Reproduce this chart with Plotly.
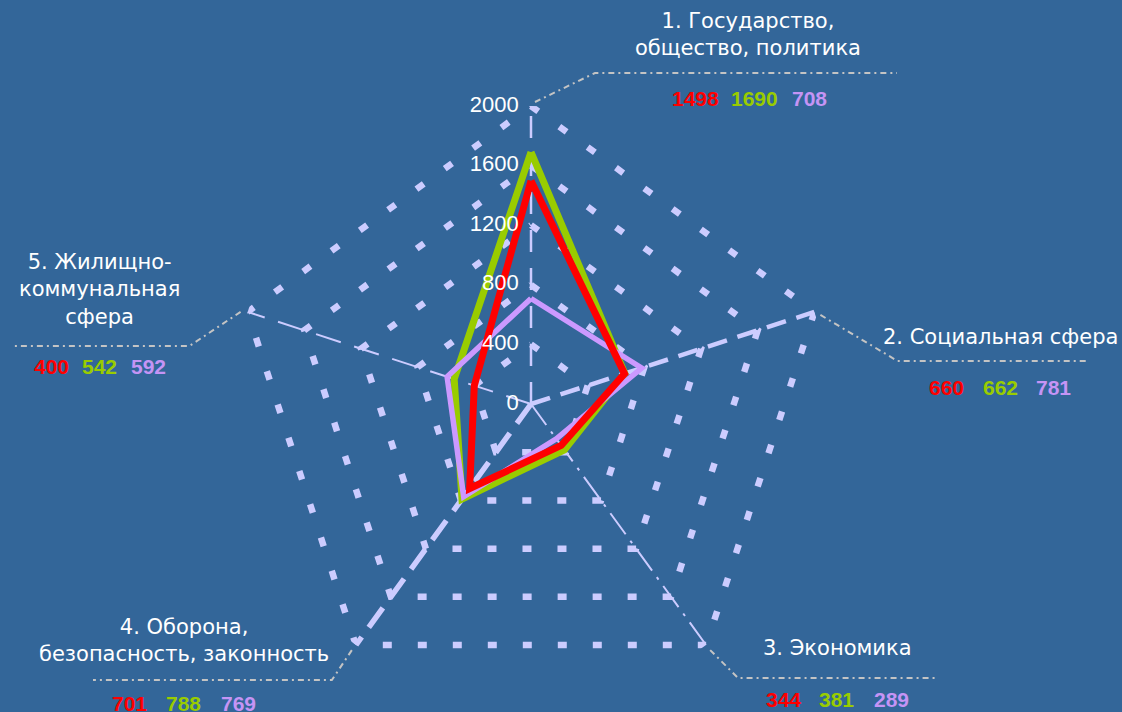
import math
import plotly.graph_objects as go

# ---------------- data ----------------
category_keys = ["c1", "c2", "c3", "c4", "c5"]
category_labels = [
    "1. Государство,<br>общество, политика",
    "2. Социальная сфера",
    "3. Экономика",
    "4. Оборона,<br>безопасность, законность",
    "5. Жилищно-<br>коммунальная<br>сфера",
]
red_values = [1498, 660, 344, 701, 400]
green_values = [1690, 662, 381, 788, 542]
purple_values = [708, 781, 289, 769, 592]
tick_values = [0, 400, 800, 1200, 1600, 2000]
tick_labels = ["0", "400", "800", "1200", "1600", "2000"]
r_max = 2000

# ---------------- styles / layout ----------------
W, H = 1122, 712
CX, CY, R = 531, 404, 298          # polar centre and radius in pixels
BG = "#336699"
GRID = "#ccccff"
LEADER = "#c4c4c4"
RED, GREEN, PURPLE = "#ff0000", "#99cc00", "#cc99ff"
PURPLE_TXT = "#c594f5"

spoke_styles = [
    dict(width=2.5, dash="22px,16px"),
    dict(width=4.5, dash="20px,11px"),
    dict(width=2, dash="26px,8px,3px,8px"),
    dict(width=5.5, dash="24px,12px"),
    dict(width=2, dash="26px,14px"),
]

# label placement (pixels): elbow offset from vertex, end x of leader,
# text block centre, numbers row y and x centres
label_pos = [
    dict(start=(4, -4), elbow=(64, -33), end_x=897, text=(748, 35), num_y=99, num_x=[695, 754, 809]),
    dict(start=(6, 3), elbow=(83, 49), end_x=1088, text=(1000, 337), num_y=387, num_x=[946, 1000, 1053]),
    dict(start=(4, 5), elbow=(32, 33), end_x=935, text=(837, 648), num_y=699, num_x=[783, 836, 891]),
    dict(start=(-4, 5), elbow=(-24, 35), end_x=93, text=(184, 640), num_y=703, num_x=[129, 183, 238]),
    dict(start=(-7, 0), elbow=(-58, 34), end_x=12, text=(99, 290), num_y=366, num_x=[51, 99, 148]),
]


def px(x):
    return x / W


def py(y):
    return 1 - y / H


fig = go.Figure()
closed = category_keys + [category_keys[0]]

# grid pentagons
for lvl in tick_values[1:]:
    fig.add_trace(go.Scatterpolar(
        r=[lvl] * len(closed), theta=closed, mode="lines",
        line=dict(color=GRID, width=6.5, dash="9px,26px"),
        hoverinfo="skip", showlegend=False))

# spokes
for key, st in zip(category_keys, spoke_styles):
    fig.add_trace(go.Scatterpolar(
        r=[0, r_max], theta=[key, key], mode="lines",
        line=dict(color=GRID, width=st["width"], dash=st["dash"]),
        hoverinfo="skip", showlegend=False))

# series
for vals, col, w in [(green_values, GREEN, 7), (purple_values, PURPLE, 5.5), (red_values, RED, 7)]:
    fig.add_trace(go.Scatterpolar(
        r=vals + [vals[0]], theta=closed, mode="lines",
        line=dict(color=col, width=w), showlegend=False))

# radial tick labels
fig.add_trace(go.Scatterpolar(
    r=tick_values, theta=[category_keys[0]] * len(tick_values), mode="text",
    text=[t + "\u00a0\u00a0" for t in tick_labels], textposition="middle left",
    textfont=dict(family="Liberation Sans, Arial", size=22, color="white"),
    hoverinfo="skip", showlegend=False, cliponaxis=False))

annotations = []
shapes = []
for i, lp in enumerate(label_pos):
    ang = math.radians(90 - 72 * i)
    vx = CX + R * math.cos(ang)
    vy = CY - R * math.sin(ang)
    sx, sy = vx + lp["start"][0], vy + lp["start"][1]
    ex, ey = vx + lp["elbow"][0], vy + lp["elbow"][1]
    path = f"M {px(sx)} {py(sy)} L {px(ex)} {py(ey)} L {px(lp['end_x'])} {py(ey)}"
    shapes.append(dict(type="path", xref="paper", yref="paper", path=path,
                       line=dict(color=LEADER, width=2, dash="6px,4px,2px,4px")))
    annotations.append(dict(
        x=px(lp["text"][0]), y=py(lp["text"][1]), xref="paper", yref="paper",
        text=category_labels[i], showarrow=False, xanchor="center", yanchor="middle",
        align="center", font=dict(family="DejaVu Sans", size=21, color="white")))
    for val, col, nx in zip([red_values[i], green_values[i], purple_values[i]],
                            [RED, GREEN, PURPLE_TXT], lp["num_x"]):
        annotations.append(dict(
            x=px(nx), y=py(lp["num_y"]), xref="paper", yref="paper",
            text=f"<b>{val}</b>", showarrow=False, xanchor="center", yanchor="middle",
            font=dict(family="Liberation Sans, Arial", size=21, color=col)))

fig.update_layout(
    width=W, height=H,
    margin=dict(l=0, r=0, t=0, b=0),
    paper_bgcolor=BG, plot_bgcolor=BG,
    showlegend=False,
    polar=dict(
        domain=dict(x=[px(CX - R), px(CX + R)], y=[py(CY + R), py(CY - R)]),
        bgcolor="rgba(0,0,0,0)",
        gridshape="circular",
        angularaxis=dict(type="category", categoryarray=category_keys, rotation=90,
                         direction="clockwise", showgrid=False, showline=False,
                         showticklabels=False, ticks=""),
        radialaxis=dict(range=[0, r_max], showgrid=False, showline=False,
                        showticklabels=False, ticks=""),
    ),
    annotations=annotations,
    shapes=shapes,
)

fig.write_html(
    "out.html",
    config={"displayModeBar": False},
    post_script="document.body.style.margin='0';document.body.style.overflow='hidden';",
)
